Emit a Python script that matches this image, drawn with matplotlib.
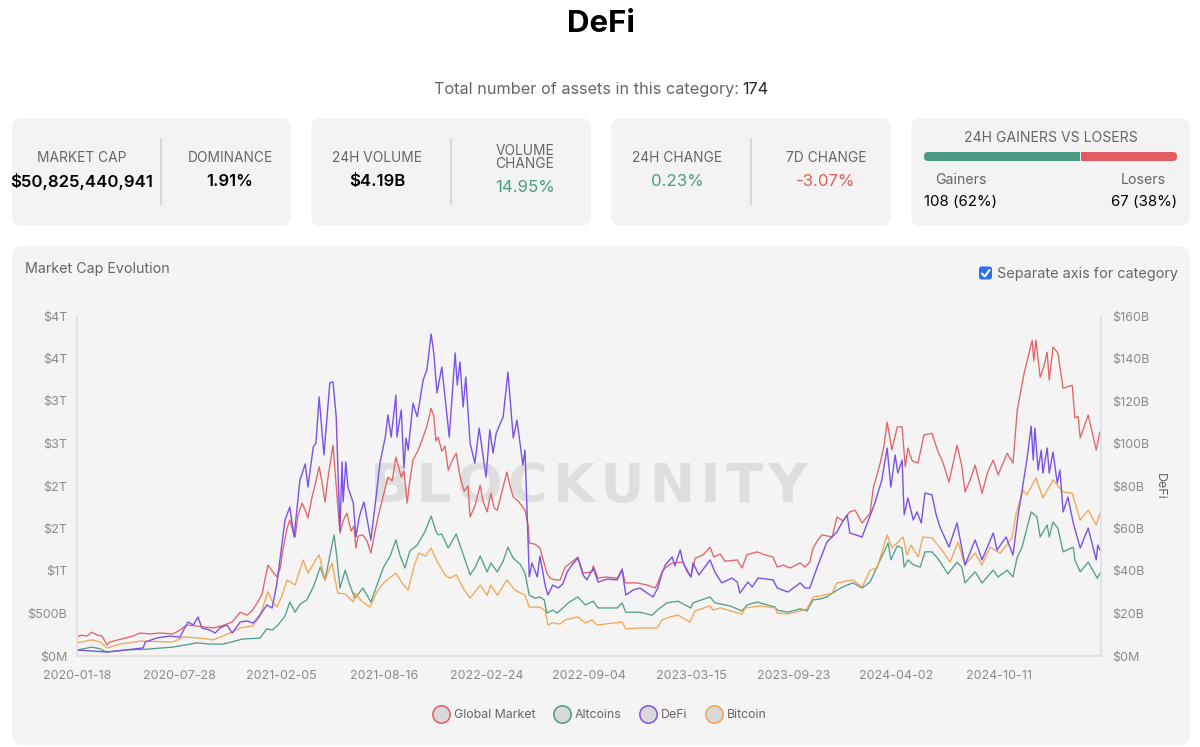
import matplotlib
matplotlib.use("Agg")
import matplotlib.pyplot as plt
from matplotlib.lines import Line2D
from matplotlib.patches import FancyBboxPatch, Rectangle

plt.rcParams["font.family"] = ["Inter", "DejaVu Sans"]

# =====================================================
# DATA  (day since 2020-01-18, market cap in $B)
# =====================================================

tick_days = [0, 192, 384, 576, 768, 960, 1152, 1344, 1536, 1728]
tick_dates = ["2020-01-18", "2020-07-28", "2021-02-05", "2021-08-16", "2022-02-24",
              "2022-09-04", "2023-03-15", "2023-09-23", "2024-04-02", "2024-10-11"]
left_ticks = [0, 500, 1000, 1500, 2000, 2500, 3000, 3500, 4000]
left_labels = ["$0M", "$500B", "$1T", "$2T", "$2T", "$3T", "$3T", "$4T", "$4T"]
right_ticks = [0, 20, 40, 60, 80, 100, 120, 140, 160]
right_labels = ["$0M", "$20B", "$40B", "$60B", "$80B", "$100B", "$120B", "$140B", "$160B"]

global_market = [
    (0, 225), (9, 245), (19, 235), (28, 280), (38, 245), (47, 235), (56, 130), (62, 165), (77, 190),
    (90, 210), (105, 235), (118, 270), (137, 260), (156, 270), (180, 260), (193, 305), (206, 365),
    (221, 355), (240, 340), (255, 330), (272, 355), (291, 400), (306, 515), (319, 480), (328, 530),
    (338, 625), (347, 730), (358, 1070), (366, 1000), (375, 930), (381, 1035), (386, 1245), (394, 1505),
    (399, 1600), (405, 1470), (409, 1400), (414, 1645), (422, 1800), (428, 1715), (433, 1625), (441, 1880),
    (446, 2000), (454, 2225), (459, 2060), (465, 1810), (471, 2115), (480, 2480), (486, 2000), (493, 1445),
    (499, 1590), (506, 1680), (514, 1470), (519, 1530), (523, 1270), (527, 1410), (536, 1425), (544, 1350),
    (551, 1210), (559, 1470), (564, 1625), (574, 1880), (583, 2105), (591, 2060), (598, 2340), (608, 2105),
    (613, 2175), (619, 1800), (624, 2060), (630, 2305), (639, 2410), (647, 2540), (656, 2705), (664, 2915),
    (669, 2820), (673, 2530), (677, 2575), (684, 2410), (690, 2470), (696, 2185), (703, 2295), (711, 2385),
    (718, 2115), (726, 1940), (733, 2000), (737, 1635), (746, 1765), (756, 2010), (761, 1825), (769, 1695),
    (776, 1915), (782, 1740), (788, 1715), (797, 1940), (806, 2165), (812, 2000), (818, 1870), (827, 1825),
    (840, 1715), (846, 1530), (848, 1330), (859, 1315), (868, 1270), (881, 975), (887, 915), (896, 895),
    (906, 895), (915, 1045), (928, 1105), (939, 1165), (949, 975), (966, 990), (968, 1060), (977, 915),
    (990, 930), (1013, 915), (1022, 1025), (1028, 860), (1050, 860), (1069, 835), (1084, 800), (1089, 860),
    (1097, 990), (1103, 1035), (1112, 1080), (1118, 1095), (1136, 1105), (1144, 990), (1151, 930), (1159, 1150),
    (1174, 1190), (1187, 1280), (1194, 1165), (1206, 1200), (1215, 1115), (1238, 1130), (1247, 1035),
    (1256, 1190), (1275, 1225), (1290, 1190), (1305, 1165), (1313, 1045), (1324, 1070), (1337, 1035),
    (1356, 1095), (1365, 1045), (1374, 1105), (1380, 1270), (1389, 1365), (1397, 1425), (1416, 1400),
    (1425, 1635), (1436, 1590), (1449, 1695), (1459, 1715), (1472, 1565), (1487, 1680), (1493, 1975),
    (1506, 2270), (1513, 2470), (1519, 2750), (1528, 2425), (1538, 2695), (1547, 2695), (1553, 2225),
    (1558, 2445), (1566, 2295), (1577, 2270), (1588, 2600), (1603, 2620), (1614, 2410), (1624, 2270),
    (1635, 2045), (1650, 2480), (1659, 2235), (1665, 1930), (1674, 2060), (1684, 2245), (1697, 1915),
    (1708, 2175), (1718, 2305), (1727, 2130), (1744, 2385), (1755, 2270), (1763, 2895), (1776, 3330),
    (1791, 3715), (1794, 3470), (1798, 3715), (1806, 3280), (1813, 3410), (1819, 3575), (1823, 3245),
    (1830, 3635), (1839, 3565), (1849, 3150), (1866, 3185), (1871, 2800), (1877, 2820), (1881, 2565),
    (1896, 2835), (1903, 2645), (1911, 2425), (1918, 2635),
]

altcoins = [
    (0, 70), (28, 105), (43, 85), (56, 45), (90, 70), (131, 80), (180, 105), (203, 130), (225, 155),
    (249, 140), (274, 140), (311, 200), (343, 210), (356, 320), (366, 305), (377, 365), (390, 470),
    (399, 635), (409, 515), (418, 610), (431, 660), (444, 825), (456, 1045), (465, 895), (474, 1175),
    (482, 1425), (487, 1175), (493, 800), (503, 1010), (512, 825), (521, 680), (536, 800), (551, 635),
    (562, 825), (574, 1035), (587, 1175), (598, 1365), (606, 1175), (615, 1035), (624, 1235), (638, 1305),
    (653, 1470), (664, 1645), (673, 1470), (677, 1425), (684, 1435), (696, 1270), (711, 1435), (722, 1235),
    (737, 955), (746, 1035), (756, 1175), (769, 990), (776, 1095), (788, 990), (799, 1115), (808, 1280),
    (818, 1150), (831, 1080), (840, 975), (848, 715), (859, 680), (868, 695), (876, 660), (881, 505),
    (892, 540), (900, 505), (911, 565), (921, 625), (939, 695), (953, 600), (968, 645), (977, 565),
    (1013, 565), (1022, 625), (1029, 515), (1056, 515), (1078, 480), (1093, 565), (1106, 625), (1127, 645),
    (1151, 565), (1155, 625), (1187, 695), (1196, 625), (1224, 590), (1247, 530), (1256, 600), (1275, 635),
    (1309, 575), (1313, 540), (1333, 515), (1356, 555), (1369, 530), (1380, 660), (1393, 670), (1406, 695),
    (1425, 775), (1440, 825), (1455, 860), (1472, 800), (1487, 870), (1506, 1130), (1521, 1330), (1526, 1130),
    (1538, 1295), (1547, 1270), (1551, 1045), (1558, 1130), (1569, 1070), (1581, 1045), (1590, 1225),
    (1603, 1225), (1614, 1150), (1633, 965), (1650, 1105), (1659, 1045), (1665, 860), (1684, 990), (1697, 860),
    (1718, 1010), (1727, 930), (1744, 1010), (1755, 930), (1763, 1165), (1772, 1280), (1789, 1695),
    (1800, 1635), (1806, 1400), (1819, 1540), (1823, 1400), (1830, 1575), (1839, 1505), (1849, 1225),
    (1868, 1280), (1871, 1130), (1881, 990), (1896, 1105), (1913, 915), (1918, 975),
]

bitcoin = [
    (0, 155), (28, 190), (43, 165), (56, 95), (81, 140), (118, 175), (180, 165), (199, 225), (231, 210),
    (255, 190), (287, 270), (306, 330), (330, 355), (343, 470), (358, 755), (366, 645), (375, 575),
    (384, 705), (394, 895), (409, 835), (424, 1130), (433, 975), (446, 1115), (454, 1190), (465, 895),
    (478, 1095), (489, 740), (503, 730), (518, 635), (521, 740), (534, 645), (549, 575), (564, 775),
    (578, 880), (598, 975), (611, 845), (621, 775), (632, 1060), (641, 1210), (653, 1175), (664, 1270),
    (675, 1115), (690, 955), (699, 915), (711, 955), (724, 800), (737, 680), (756, 835), (769, 715),
    (776, 835), (788, 715), (806, 895), (821, 775), (840, 715), (848, 575), (868, 575), (878, 530), (883, 365),
    (892, 390), (906, 375), (915, 425), (939, 460), (953, 390), (966, 425), (975, 365), (1022, 400),
    (1029, 320), (1056, 330), (1088, 330), (1097, 425), (1112, 460), (1127, 480), (1149, 400), (1159, 530),
    (1187, 590), (1193, 540), (1206, 565), (1247, 495), (1253, 565), (1281, 590), (1309, 565), (1313, 505),
    (1333, 495), (1356, 530), (1369, 555), (1380, 695), (1393, 705), (1416, 740), (1425, 860), (1455, 895),
    (1472, 810), (1487, 1010), (1500, 1035), (1519, 1425), (1528, 1270), (1549, 1400), (1556, 1190),
    (1564, 1305), (1577, 1165), (1586, 1400), (1603, 1390), (1622, 1245), (1637, 1105), (1652, 1340),
    (1665, 1070), (1684, 1210), (1697, 1070), (1712, 1280), (1731, 1210), (1753, 1390), (1761, 1680),
    (1774, 1950), (1781, 1895), (1798, 2095), (1811, 1860), (1830, 2070), (1849, 1930), (1866, 1915),
    (1881, 1600), (1896, 1715), (1911, 1540), (1918, 1680),
]

defi = [
    (0, 2.8), (56, 1.9), (90, 2.8), (124, 3.8), (128, 6.6), (150, 8.5), (174, 9.4), (193, 8.9), (208, 16),
    (218, 14.6), (227, 18.4), (234, 13.2), (249, 12.2), (259, 10.8), (268, 13.2), (281, 14.6), (291, 10.8),
    (306, 16), (319, 16.5), (330, 15.5), (339, 17.9), (356, 24), (366, 22.6), (375, 34.4), (390, 64),
    (399, 70.1), (407, 56), (418, 82.8), (428, 90.4), (433, 79.5), (443, 98.4), (448, 100.2), (454, 121.9),
    (463, 94.6), (474, 128.5), (480, 129), (486, 112.5), (493, 59.3), (497, 91.3), (499, 72.5), (504, 91.3),
    (508, 79.5), (518, 72), (523, 56), (529, 65.4), (538, 72.5), (551, 54.6), (561, 75.3), (568, 90.8),
    (578, 103), (583, 113.4), (589, 103), (598, 122.8), (600, 103), (608, 115.8), (613, 88.5), (617, 102.6),
    (621, 96.9), (630, 119), (638, 112.5), (649, 129.9), (656, 134.6), (664, 151.5), (669, 142.6), (675, 123.8),
    (684, 136), (692, 117.2), (698, 103), (709, 142.6), (713, 127.5), (718, 138.4), (724, 117.2), (729, 131.3),
    (737, 100.2), (746, 90.8), (754, 107.3), (767, 84.2), (774, 106.4), (780, 95.5), (786, 104.9), (799, 112.5),
    (808, 133.6), (818, 102.6), (825, 111), (836, 89.9), (840, 96.9), (848, 37.2), (853, 43.8), (863, 37.2),
    (868, 47), (878, 33), (883, 28.7), (892, 33.4), (902, 32), (911, 33.9), (919, 39.5), (928, 42.8), (939, 46.1),
    (949, 38.1), (956, 35.8), (968, 41.4), (977, 34.8), (994, 36.2), (1013, 35.8), (1022, 40.5), (1029, 28.7),
    (1043, 31.1), (1056, 32), (1069, 29.6), (1080, 27.8), (1089, 32), (1097, 39.1), (1103, 42.8), (1116, 46.6),
    (1121, 42.4), (1131, 49.9), (1136, 44.2), (1144, 40.5), (1151, 37.2), (1155, 43.8), (1166, 38.1), (1187, 45.2),
    (1196, 39.5), (1209, 34.4), (1228, 36.7), (1238, 34.8), (1243, 29.6), (1258, 34.8), (1266, 32.5), (1277, 36.7),
    (1305, 35.8), (1313, 32), (1333, 30.1), (1356, 34.4), (1365, 32), (1374, 32), (1388, 41.9), (1406, 53.6),
    (1425, 58.4), (1434, 62.6), (1444, 66.4), (1449, 57.9), (1472, 56), (1496, 72), (1509, 82.8), (1519, 97.9),
    (1526, 79.5), (1534, 94.6), (1539, 86.1), (1547, 92.2), (1551, 66.4), (1558, 74.4), (1568, 64), (1575, 67.8),
    (1583, 62.6), (1590, 76.7), (1603, 75.8), (1611, 66.4), (1618, 60.7), (1635, 51.3), (1650, 62.6), (1665, 42.8),
    (1684, 54.6), (1697, 45.2), (1718, 57.9), (1725, 49.9), (1742, 56), (1755, 47.5), (1764, 65.4), (1781, 92.2),
    (1789, 108.2), (1793, 92.2), (1796, 107.3), (1802, 87.5), (1808, 96.9), (1811, 86.1), (1819, 97.9), (1823, 86.1),
    (1830, 96), (1838, 81.4), (1843, 87.5), (1849, 67.8), (1858, 74.8), (1868, 62.6), (1881, 50.8), (1896, 60.2),
    (1911, 45.2), (1914, 52.2), (1918, 49.9),
]

gainers = 108
losers = 67

# =====================================================
# COLORS
# =====================================================

RED = "#e25c5f"
GREEN = "#4a9a85"
PURPLE = "#7b52e6"
ORANGE = "#f3a24f"
CARD = "#f3f3f3"
LABEL = "#666666"
TICK = "#8a8a8a"
AXIS = "#e2e2e2"

# =====================================================
# PAGE
# =====================================================

fig = plt.figure(figsize=(12, 7.47), dpi=100, facecolor="white")

bg = fig.add_axes([0, 0, 1, 1])
bg.set_xlim(0, 1200)
bg.set_ylim(747, 0)
bg.axis("off")


def card(x0, y0, x1, y1, color=CARD):
    bg.add_patch(FancyBboxPatch((x0, y0), x1 - x0, y1 - y0,
                                boxstyle="round,pad=0,rounding_size=10",
                                fc=color, ec="none"))


def txt(x, y, s, size, color="black", ha="center", weight="normal", **kw):
    bg.text(x, y + 1, s, fontsize=size, color=color, ha=ha, va="center", weight=weight, **kw)


txt(601, 23, "DeFi", 22.5, "black", weight="bold")
txt(434, 88.5, "Total number of assets in this category:", 11.7, LABEL, ha="left")
txt(742, 88.5, "174", 11.7, "#222222", ha="left")

for x0, x1 in [(12, 291), (311, 591), (611, 891), (911, 1190)]:
    card(x0, 118, x1, 226)
card(12, 246, 1190, 745, "#f4f4f4")

for x in [161, 451, 751]:
    bg.plot([x, x], [139, 204], color="#d8d8d8", lw=1.6)

LAB = 9.9
VAL = 12.1
txt(82, 157, "MARKET CAP", LAB, LABEL)
txt(82, 180.5, "$50,825,440,941", VAL, "black", weight="semibold")
txt(230, 157, "DOMINANCE", LAB, LABEL)
txt(230, 180.5, "1.91%", VAL, "black", weight="semibold")

txt(377, 157, "24H VOLUME", LAB, LABEL)
txt(377, 180.5, "$4.19B", VAL, "black", weight="semibold")
txt(525, 150, "VOLUME", LAB, LABEL)
txt(525, 163, "CHANGE", LAB, LABEL)
txt(525, 187, "14.95%", VAL, GREEN)

txt(677, 157, "24H CHANGE", LAB, LABEL)
txt(677, 180.5, "0.23%", VAL, GREEN)
txt(826, 157, "7D CHANGE", LAB, LABEL)
txt(826, 180.5, "-3.07%", VAL, RED)

txt(1051, 137.5, "24H GAINERS VS LOSERS", 10.1, LABEL)

# gainers / losers bar
bar_x0, bar_x1 = 924, 1177
split = bar_x0 + (bar_x1 - bar_x0) * gainers / (gainers + losers)
bg.add_patch(FancyBboxPatch((bar_x0, 152), split - bar_x0, 9, boxstyle="round,pad=0,rounding_size=4",
                            fc=GREEN, ec="none"))
bg.add_patch(Rectangle((split - 8, 152), 8, 9, fc=GREEN, ec="none"))
bg.add_patch(FancyBboxPatch((split + 1, 152), bar_x1 - split - 1, 9, boxstyle="round,pad=0,rounding_size=4",
                            fc=RED, ec="none"))
bg.add_patch(Rectangle((split + 1, 152), 8, 9, fc=RED, ec="none"))

txt(961, 179.5, "Gainers", 10.2, LABEL)
txt(1143, 179.5, "Losers", 10.2, LABEL)
txt(924, 200.5, f"{gainers} (62%)", 10.8, "black", ha="left")
txt(1177, 200.5, f"{losers} (38%)", 10.8, "black", ha="right")

txt(25, 268.5, "Market Cap Evolution", 10.3, LABEL, ha="left")

# checkbox
bg.add_patch(FancyBboxPatch((979, 266.5), 13, 13, boxstyle="round,pad=0,rounding_size=2.5",
                            fc="#2f6fed", ec="none"))
bg.plot([982, 984.8, 989.5], [273.5, 276.5, 270], color="white", lw=1.5, solid_capstyle="round")
txt(997, 273, "Separate axis for category", 10.4, LABEL, ha="left")

# watermark
bg.text(589, 487, "B\u200aL\u200aO\u200aC\u200aK\u200aU\u200aN\u200aI\u200aT\u200aY", fontsize=39,
        color="#dedede", ha="center", va="center", weight="bold", family="DejaVu Sans")

# =====================================================
# CHART
# =====================================================

ax = fig.add_axes([77 / 1200, (747 - 656) / 747, 1024 / 1200, 340 / 747])
ax.patch.set_alpha(0)
ax2 = ax.twinx()
ax2.patch.set_alpha(0)

for series, color in [(global_market, RED), (altcoins, GREEN), (bitcoin, ORANGE)]:
    days, vals = zip(*series)
    ax.plot(days, vals, color=color, lw=0.95, alpha=0.95)
days, vals = zip(*defi)
ax2.plot(days, vals, color=PURPLE, lw=1.0)

ax.set_xlim(0, 1920)
ax.set_ylim(0, 4000)
ax2.set_ylim(0, 160)

ax.set_xticks(tick_days)
ax.set_xticklabels(tick_dates)
ax.set_yticks(left_ticks)
ax.set_yticklabels(left_labels)
ax2.set_yticks(right_ticks)
ax2.set_yticklabels(right_labels)

for a in [ax, ax2]:
    a.tick_params(length=0, labelsize=9, labelcolor=TICK)
    a.spines["top"].set_visible(False)
    for s in ["left", "right", "bottom"]:
        a.spines[s].set_color(AXIS)
        a.spines[s].set_linewidth(1.2)
ax.tick_params(axis="x", pad=10)
ax.tick_params(axis="y", pad=7)
ax2.tick_params(axis="y", pad=8)

ax2.set_ylabel("DeFi", rotation=-90, fontsize=9, color=LABEL, labelpad=12)

# =====================================================
# LEGEND
# =====================================================

handles = [
    Line2D([], [], ls="none", marker="o", ms=12.5, mfc="#d9d9d9", mec=c, mew=1.1, label=n)
    for n, c in [("Global Market", RED), ("Altcoins", GREEN), ("DeFi", PURPLE), ("Bitcoin", ORANGE)]
]
fig.legend(handles=handles, loc="center", bbox_to_anchor=(600 / 1200, 1 - 715 / 747), ncol=4, frameon=False,
           fontsize=8.9, labelcolor=LABEL, handletextpad=0.41, columnspacing=1.48, handlelength=1.3)

fig.savefig("out.png", dpi=100)
plt.close(fig)
